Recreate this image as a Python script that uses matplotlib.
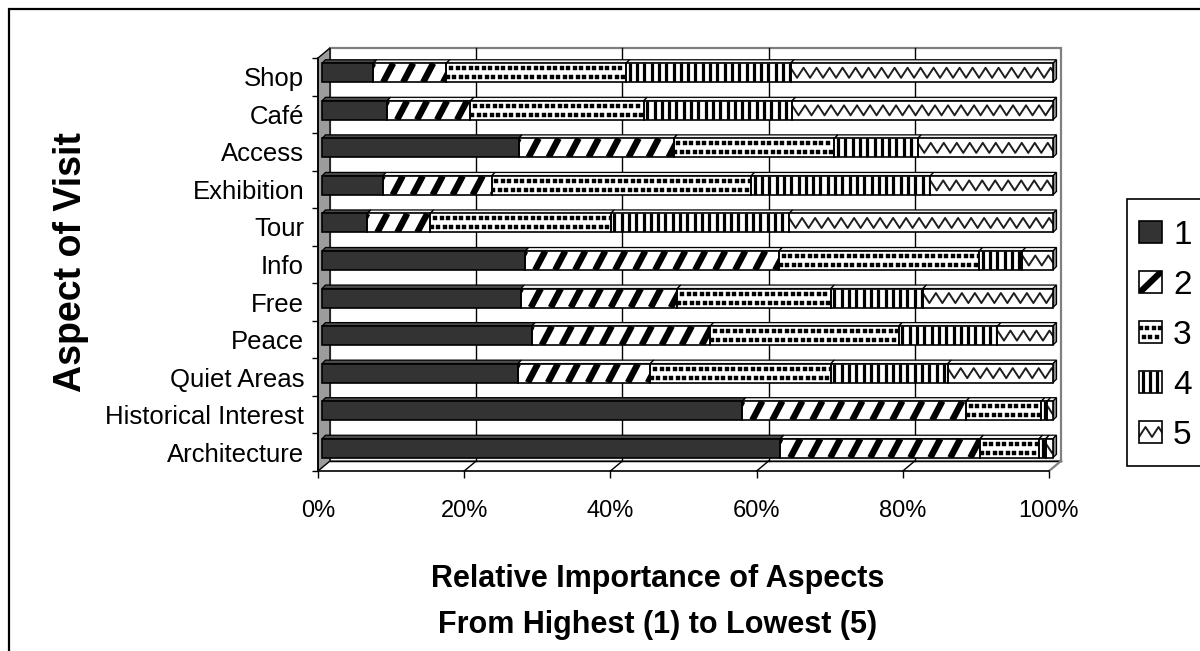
import numpy as np
import matplotlib
matplotlib.use('Agg')
import matplotlib.pyplot as plt
from matplotlib.transforms import ScaledTranslation
from matplotlib.patches import Rectangle, Polygon
from matplotlib.collections import LineCollection

plt.rcParams['font.family'] = ['Liberation Sans', 'DejaVu Sans']

# ---------------- data ----------------
categories = ['Architecture', 'Historical Interest', 'Quiet Areas', 'Peace', 'Free',
              'Info', 'Tour', 'Exhibition', 'Access', 'Café', 'Shop']
series_labels = ['1', '2', '3', '4', '5']
rank1 = [62.7, 57.5, 26.8, 28.7, 27.2, 27.8, 6.2, 8.3, 26.9, 8.9, 7.0]
rank2 = [27.3, 30.6, 18.1, 24.4, 21.4, 34.7, 8.6, 14.9, 21.2, 11.4, 10.0]
rank3 = [8.1, 10.3, 24.7, 25.8, 21.0, 27.4, 24.7, 35.5, 22.0, 23.7, 24.6]
rank4 = [0.9, 0.8, 16.0, 13.5, 12.6, 5.9, 24.4, 24.5, 11.4, 20.3, 22.5]
rank5 = [1.0, 0.8, 14.4, 7.6, 17.8, 4.2, 36.1, 16.8, 18.5, 35.7, 35.9]
xticks = [0, 20, 40, 60, 80, 100]
xtick_labels = ['0%', '20%', '40%', '60%', '80%', '100%']
x_title_1 = 'Relative Importance of Aspects'
x_title_2 = 'From Highest (1) to Lowest (5)'
y_title = 'Aspect of Visit'

series = [rank1, rank2, rank3, rank4, rank5]
faces = ['#333333', 'white', 'white', 'white', 'white']

# ---------------- layout ----------------
W_PX, H_PX = 1200, 651
fig = plt.figure(figsize=(W_PX / 100, H_PX / 100), dpi=100)
AX_L, AX_R, AX_T, AX_B = 318, 1049, 58, 471
ax = fig.add_axes([AX_L / W_PX, 1 - AX_B / H_PX, (AX_R - AX_L) / W_PX, (AX_B - AX_T) / H_PX])
n = len(categories)
ax.set_xlim(0, 100)
ax.set_ylim(-0.5, n - 0.5)
ax.patch.set_visible(False)
sx = (AX_R - AX_L) / 100.0     # px per x unit
sy = (AX_B - AX_T) / n          # px per y unit


def off(dx, dy):
    return ScaledTranslation(dx / 100.0, dy / 100.0, fig.dpi_scale_trans)


# ---------------- walls (3D frame) ----------------
DX, DY = 12 / sx, 10 / sy
y0, y1 = -0.5, n - 0.5
ax.add_patch(Polygon([(DX, y0 + DY), (100 + DX, y0 + DY), (100 + DX, y1 + DY), (DX, y1 + DY)],
                     closed=True, fc='white', ec='#808080', lw=1.6, zorder=1, clip_on=False))
ax.add_patch(Polygon([(0, y0), (0, y1), (DX, y1 + DY), (DX, y0 + DY)], closed=True,
                     fc='#9c9c9c', ec='black', lw=1.0, zorder=2.5, clip_on=False))
ax.plot([DX, 100 + DX], [y0 + DY, y0 + DY], color='black', lw=1.0, zorder=1.6, clip_on=False)
for xv in xticks[1:-1]:
    ax.plot([xv + DX, xv + DX], [y0 + DY, y1 + DY], color='black', lw=1.0, zorder=1.6, clip_on=False)
    ax.plot([xv, xv + DX], [y0, y0 + DY], color='black', lw=1.0, zorder=1.6, clip_on=False)
ax.plot([100, 100 + DX], [y0, y0 + DY], color='#808080', lw=1.6, zorder=1.6, clip_on=False)

for side in ['top', 'right']:
    ax.spines[side].set_visible(False)
for side in ['left', 'bottom']:
    ax.spines[side].set_color('black')
    ax.spines[side].set_linewidth(1.2)
    ax.spines[side].set_zorder(3)

# ---------------- bars ----------------
tr_bar = ax.transData + off(4, 4)
bh = 19 / sy
BDX, BDY = 3.5 / sx, 3.5 / sy


def draw_pattern(axx, kind, l, w, yc, h, tr, clip, ux, uy, z=6):
    sgn = 1 if uy > 0 else -1
    ybot, ytop = yc - sgn * h / 2, yc + sgn * h / 2
    uyy = abs(uy)
    arts = []
    if kind == 1:      # diagonal stripes
        period, slant = 20 / ux, 10 / ux
        starts = np.arange(l - slant - period, l + w + period, period)
        segs = [[(s, ybot), (s + slant, ytop)] for s in starts]
        lc = LineCollection(segs, colors='black', linewidths=4.6, transform=tr, zorder=z)
        lc.set_capstyle('butt')
        axx.add_collection(lc, autolim=False)
        arts.append(lc)
    elif kind == 2:    # staggered dots
        stepx = 6.5 / ux
        xa = np.arange(l + stepx / 4, l + w, stepx)
        xb = np.arange(l + 3 * stepx / 4, l + w, stepx)
        xs = np.concatenate([xa, xb])
        ys = np.concatenate([np.full(len(xa), yc - 4.5 / uyy), np.full(len(xb), yc + 4.5 / uyy)])
        arts += axx.plot(xs, ys, ls='none', marker='s', ms=2.5, mec='black', mfc='black',
                         mew=0.3, transform=tr, zorder=z)
    elif kind == 3:    # vertical stripes
        period = 7.3 / ux
        xs = np.arange(l + period / 2, l + w, period)
        segs = [[(xv, ybot), (xv, ytop)] for xv in xs]
        lc = LineCollection(segs, colors='black', linewidths=2.3, transform=tr, zorder=z)
        lc.set_capstyle('butt')
        axx.add_collection(lc, autolim=False)
        arts.append(lc)
    elif kind == 4:    # zigzag
        step = 6.5 / ux
        xs = np.arange(l - step, l + w + 2 * step, step)
        amp = 5.0 / uyy
        ys = np.where(np.arange(len(xs)) % 2 == 0, yc - amp, yc + amp)
        arts += axx.plot(xs, ys, color='#1e1e1e', lw=1.4, transform=tr, zorder=z)
    for a in arts:
        a.set_clip_on(True)
        a.set_clip_path(clip)


ypos = np.arange(n)
left = np.zeros(n)
for k, vals in enumerate(series):
    vals = np.asarray(vals, dtype=float)
    bars = ax.barh(ypos, vals, left=left, height=bh, color=faces[k], linewidth=0, zorder=5)
    for j, p in enumerate(bars.patches):
        p.set_transform(tr_bar)
        p.set_clip_on(False)
        l, w, yc = left[j], vals[j], ypos[j]
        yt = yc + bh / 2
        if k > 0:
            draw_pattern(ax, k, l, w, yc, bh, tr_bar, p, sx, sy)
        ax.add_patch(Rectangle((l, yc - bh / 2), w, bh, fill=False, ec='black', lw=1.2,
                               transform=tr_bar, zorder=7, clip_on=False))
        top_fc = '#4a4a4a' if k == 0 else '#f2f2f2'
        ax.add_patch(Polygon([(l, yt), (l + w, yt), (l + w + BDX, yt + BDY), (l + BDX, yt + BDY)],
                             closed=True, fc=top_fc, ec='black', lw=0.9, transform=tr_bar,
                             zorder=4, clip_on=False))
        if k == len(series) - 1:
            ax.add_patch(Polygon([(l + w, yc - bh / 2), (l + w, yt), (l + w + BDX, yt + BDY),
                                  (l + w + BDX, yc - bh / 2 + BDY)], closed=True, fc='#8c8c8c',
                                 ec='black', lw=0.9, transform=tr_bar, zorder=4, clip_on=False))
    left = left + vals

# ---------------- ticks ----------------
ax.set_yticks(ypos)
ax.set_yticklabels(categories, fontsize=18.5)
ax.set_yticks(np.arange(-0.5, n, 1.0), minor=True)
ax.tick_params(axis='y', which='major', length=0, pad=10)
ax.tick_params(axis='y', which='minor', length=4.3, width=1.0, direction='out', color='black')
ax.set_xticks(xticks)
ax.set_xticklabels(xtick_labels, fontsize=17)
ax.tick_params(axis='x', which='major', length=5, width=1.0, direction='out', pad=16, color='black')

# ---------------- overlay: border, legend, titles ----------------
ov = fig.add_axes([0, 0, 1, 1], zorder=10)
ov.set_xlim(0, W_PX)
ov.set_ylim(H_PX, 0)
ov.axis('off')
ov.patch.set_visible(False)
ov.plot([9, 9, W_PX + 10], [H_PX + 10, 9, 9], color='black', lw=1.6, solid_joinstyle='miter')

ov.add_patch(Rectangle((1127, 199), 120, 267, fc='white', ec='black', lw=1.2, zorder=2, clip_on=False))
leg_fs = 24
for k in range(len(series)):
    yc = 232 + 50 * k
    r = Rectangle((1139, yc - 11), 23, 22, fc=faces[k], ec='none', zorder=3)
    ov.add_patch(r)
    if k == 1:
        seg = LineCollection([[(1136, yc + 14), (1165, yc - 14)]], colors='black', linewidths=4.5, zorder=4)
        ov.add_collection(seg, autolim=False)
        seg.set_clip_path(r)
    elif k > 1:
        draw_pattern(ov, k, 1139, 23, yc, 22, ov.transData, r, 1.0, -1.0, z=4)
    ov.add_patch(Rectangle((1139, yc - 11), 23, 22, fill=False, ec='black', lw=1.2, zorder=5))
    ov.text(1173, yc + 0.716 * leg_fs * 100 / 72 / 2, series_labels[k], fontsize=leg_fs,
            ha='left', va='baseline', zorder=6)

ov.text(658, 587, x_title_1, fontsize=22, fontweight='bold', ha='center', va='baseline')
ov.text(658, 633, x_title_2, fontsize=22, fontweight='bold', ha='center', va='baseline')
ov.text(71, 262, y_title, fontsize=27, fontweight='bold', rotation=90, ha='center', va='center')

fig.savefig('out.png', dpi=100)
